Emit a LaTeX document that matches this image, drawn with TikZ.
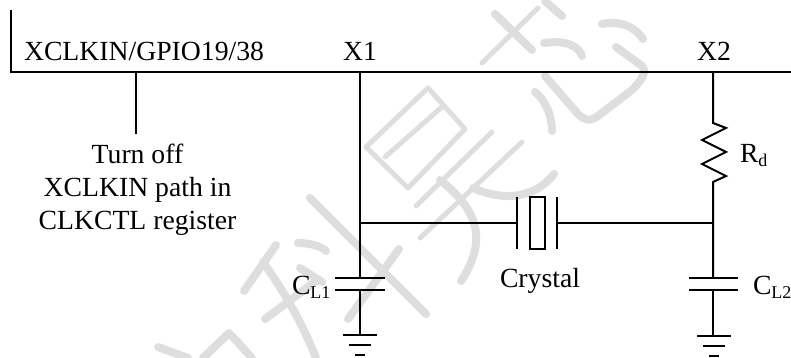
\documentclass[tikz,border=0pt]{standalone}
\usepackage{fontspec}
\setmainfont{Liberation Serif}
\newcommand{\sublab}[2]{#1\raisebox{-4pt}{\fontsize{18}{18}\selectfont #2}}
\definecolor{wm}{HTML}{DEDEDE}
\tikzset{
  wire/.style={draw=black,line width=2pt},
  lab/.style={inner sep=0pt,outer sep=0pt,font=\fontsize{27.7}{33}\selectfont},
  wmthick/.style={draw=wm,line width=8pt,line cap=round,line join=round},
  wmthin/.style={draw=wm,line width=5pt,line cap=round,line join=round}
}
\begin{document}
\begin{tikzpicture}[x=1pt,y=-1pt]
\useasboundingbox (0,0) rectangle (791,358);
% watermark
\draw[wmthin] (428,88)--(366,147)--(408,188)--(465,129)--(428,88);
\draw[wmthin] (385,157)--(443,106);
\draw[wmthin] (492,132)--(416,206);
\draw[wmthin] (522,142)--(420,238);
\draw[wmthick] (440,180) .. controls (478,210) and (488,240) .. (461,281);
\draw[wmthick] (473,188) .. controls (505,202) and (535,198) .. (554,174);
\draw[wmthick] (310,198)--(426,314);
\draw[wmthick] (276,245)--(244,291);
\draw[wmthick] (263,262) .. controls (290,300) and (305,330) .. (316,358);
\draw[wmthick] (399,249)--(348,319);
\draw[wmthick] (316,281)--(265,319);
\draw[wmthick] (298,243) .. controls (312,243) and (322,247) .. (326,251);
\draw[wmthick] (300,268)--(322,282);
\draw[wmthick] (158,347)--(188,358);
\draw[wmthick] (229,333)--(203,358);
\draw[wmthick] (231,335)--(252,358);
\draw[wmthick] (495,14)--(532,50);
\draw[wmthick] (562,16)--(545,1);
\draw[wmthin] (538,8)--(482,63);
\draw[wmthick] (544,43) .. controls (565,40) and (578,45) .. (582,56);
\draw[wmthick] (602,24) .. controls (622,20) and (636,28) .. (643,39);
\draw[wmthick] (616,47)--(642,66) .. controls (648,72) and (640,82) .. (632,90)--(598,116) .. controls (590,122) and (584,120) .. (578,114)--(545,76);
\draw[wmthick] (535,92) .. controls (545,100) and (552,115) .. (552,131);
% border and bus
\coordinate (tl) at (11,10);
\coordinate (bl) at (11,72);
\coordinate (br) at (791,72);
\coordinate (stub) at (136,72);
\coordinate (x1top) at (360,72);
\coordinate (x2top) at (713,72);
\coordinate (x1mid) at (360,223);
\coordinate (x2mid) at (713,223);
\draw[wire] (tl)--(bl)--(br);
% labels
\node[lab,anchor=base west] (pin) at (24,61) {XCLKIN/GPIO19/38};
\node[lab,anchor=base] (x1) at (360,61) {X1};
\node[lab,anchor=base] (x2) at (714,61) {X2};
\node[lab,inner ysep=10pt,align=center,anchor=north] (note) at (137.5,134) {Turn off\\XCLKIN path in\\CLKCTL register};
\node[lab,anchor=base west] (cl1) at (292,294) {\sublab{C}{L1}};
\node[lab,anchor=base west] (cl2) at (753,294) {\sublab{C}{L2}};
\node[lab,anchor=base west] (rd) at (740,162) {\sublab{R}{d}};
\node[lab,anchor=base] (crystal) at (540,287) {Crystal};
% stub to the note
\draw[wire] (stub)--(stub|-note.north);
% X1 branch
\coordinate (c1a) at (360,278);
\coordinate (c1b) at (360,290);
\coordinate (g1) at (360,335);
\draw[wire] (x1top)--(c1a);
\draw[wire] (335,278)--(385,278);
\draw[wire] (335,290)--(385,290);
\draw[wire] (c1b)--(g1);
\draw[wire] (343,335)--(377,335);
\draw[wire] (349,345)--(371,345);
\draw[wire] (355,355)--(365,355);
% crystal
\coordinate (xa) at (517,223);
\coordinate (xb) at (557,223);
\draw[wire] (x1mid)--(xa);
\draw[wire] (xb)--(x2mid);
\draw[wire] (517,197)--(517,249);
\draw[wire] (557,197)--(557,249);
\node[draw=black,line width=2pt,minimum width=15pt,minimum height=52pt,inner sep=0pt] (xtal) at (537.5,223) {};
% X2 branch
\coordinate (ra) at (713,123);
\coordinate (rb) at (713,182);
\coordinate (c2a) at (713,278);
\coordinate (c2b) at (713,290);
\coordinate (g2) at (713,336);
\draw[wire] (x2top)--(ra)--(726,128)--(702,140)--(726,152)--(702,164)--(726,176)--(rb)--(c2a);
\draw[wire] (689,278)--(738,278);
\draw[wire] (689,290)--(738,290);
\draw[wire] (c2b)--(g2);
\draw[wire] (697,336)--(731,336);
\draw[wire] (703,346)--(725,346);
\draw[wire] (709,356)--(719,356);
\end{tikzpicture}
\end{document}
